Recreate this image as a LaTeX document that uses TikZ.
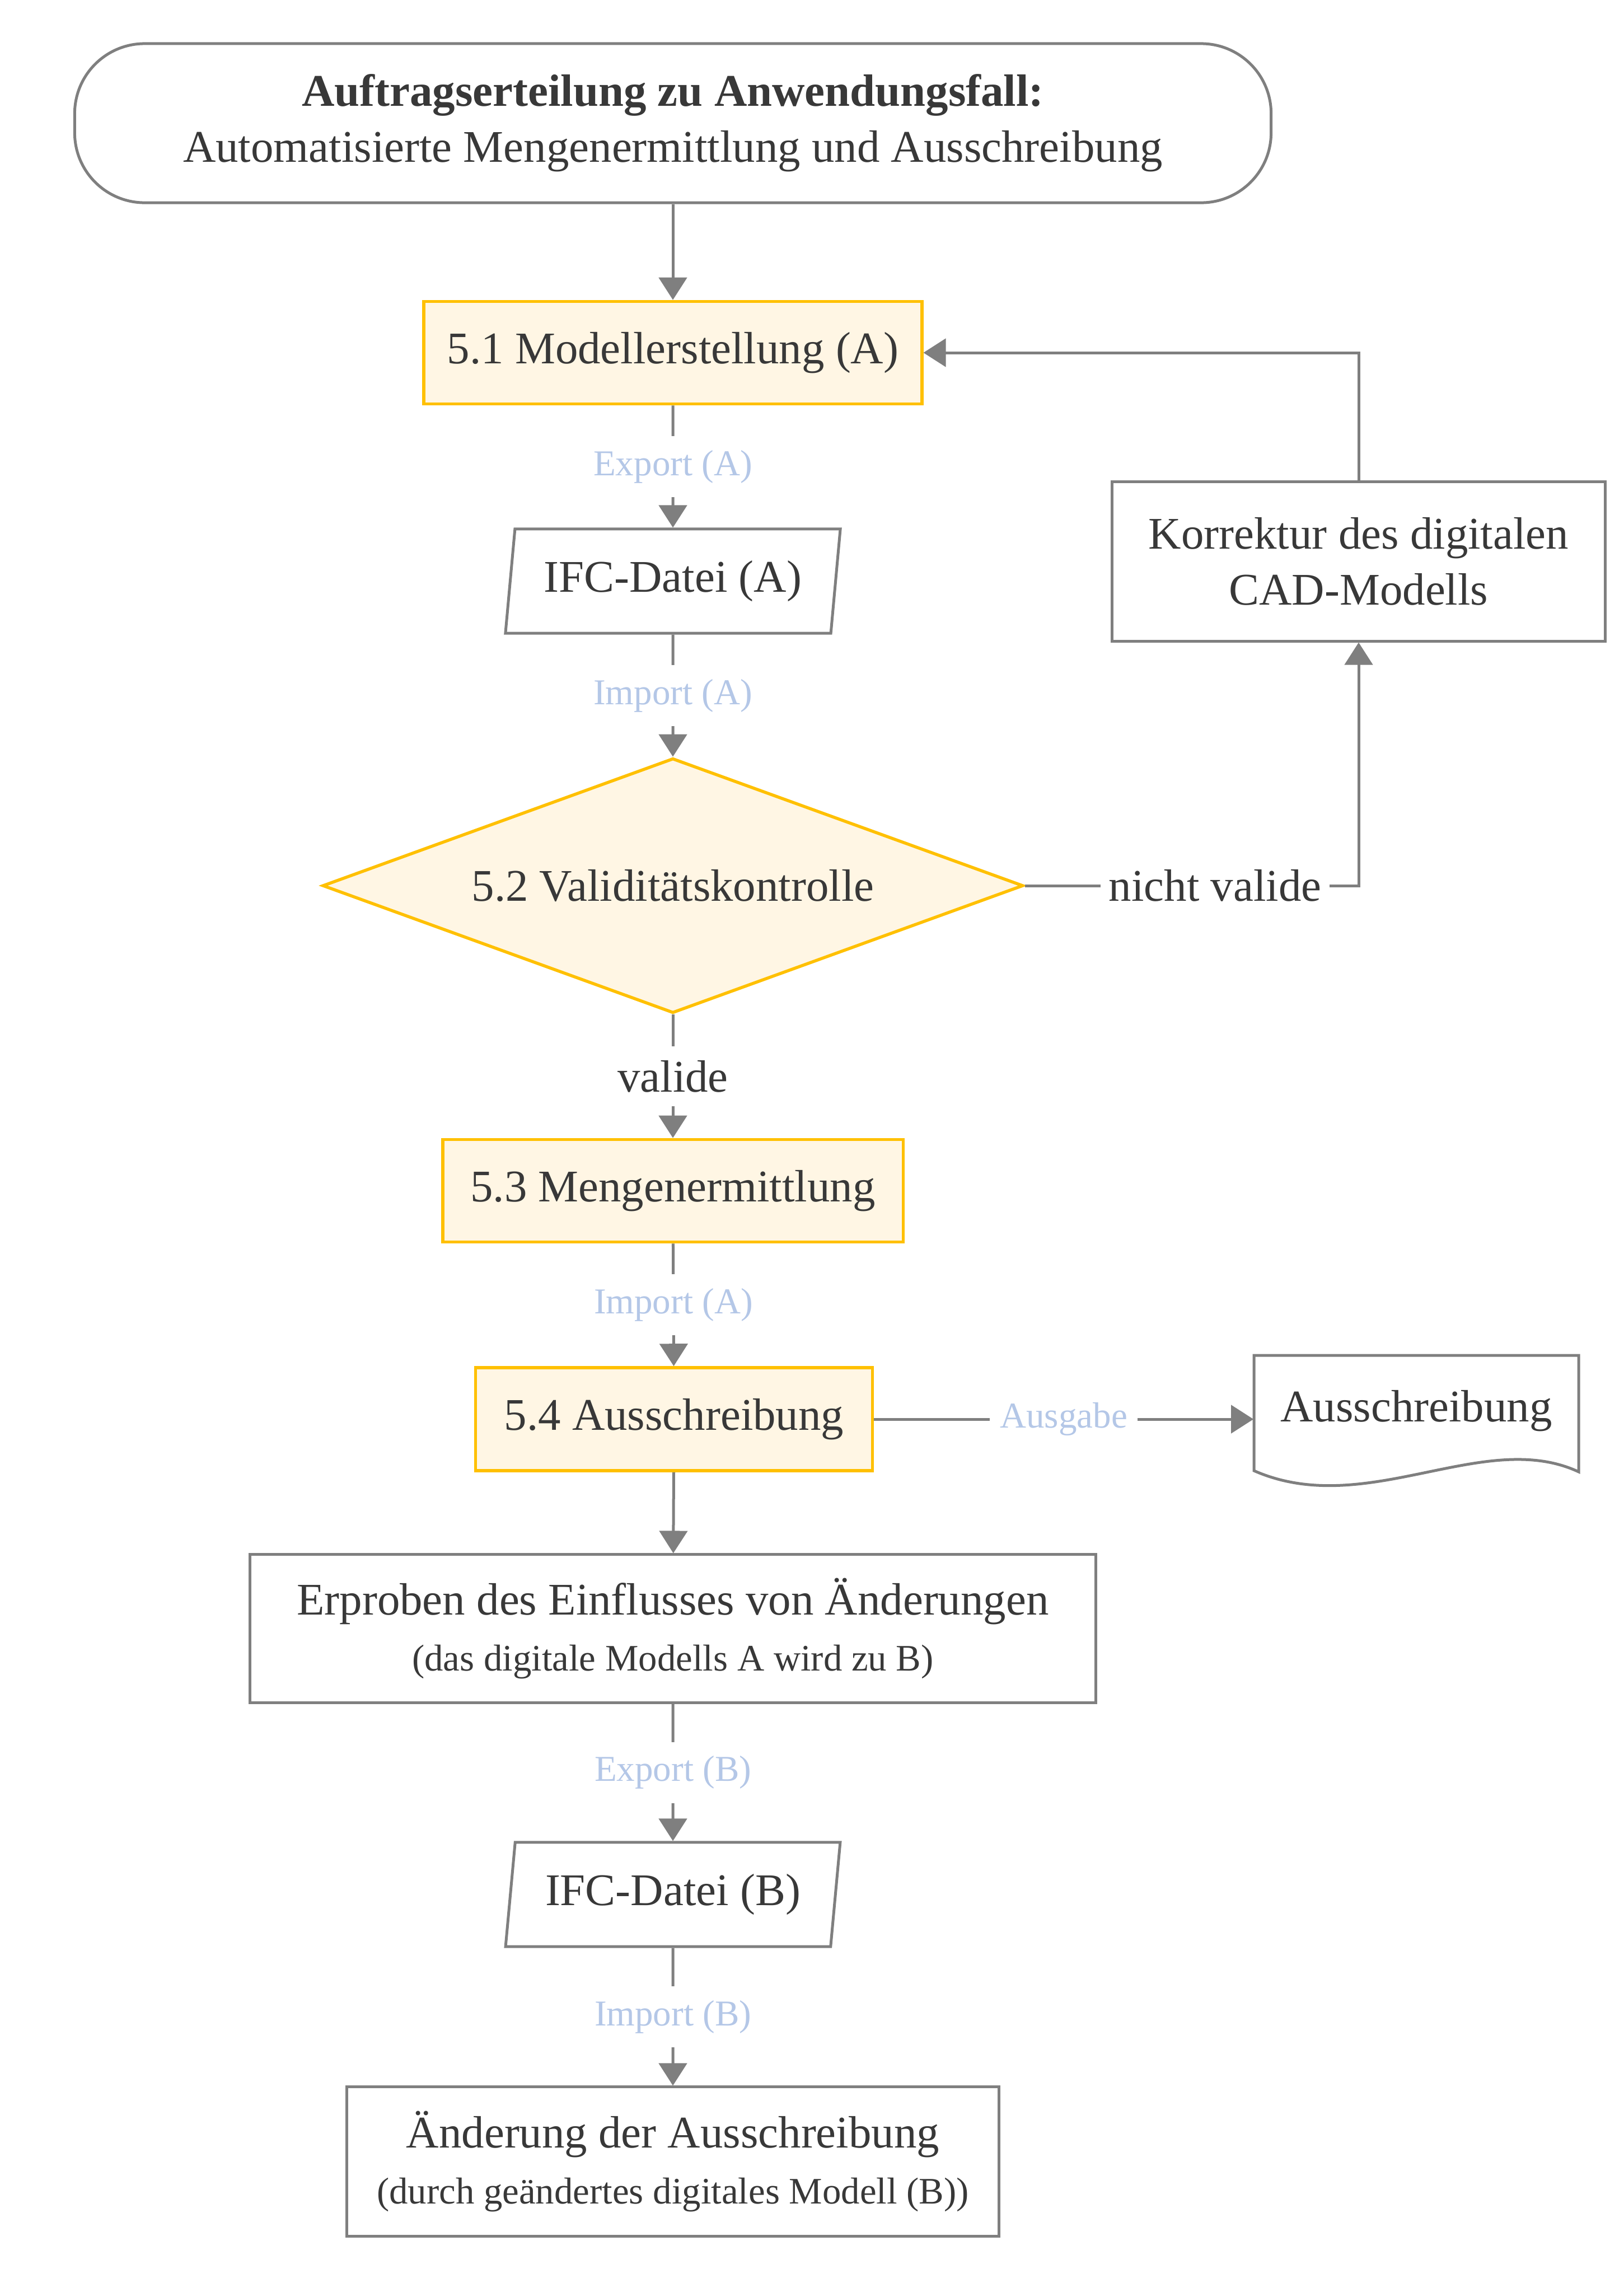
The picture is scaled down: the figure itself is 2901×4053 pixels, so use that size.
\documentclass[tikz,border=0pt]{standalone}
\usepackage{fontspec}
\setmainfont{Liberation Serif}
\usetikzlibrary{arrows.meta,shapes.geometric}
\definecolor{lgray}{HTML}{7F7F7F}
\definecolor{txt}{HTML}{383838}
\definecolor{yel}{HTML}{FFC000}
\definecolor{cream}{HTML}{FFF6E4}
\definecolor{lblue}{HTML}{B4C7E7}
\newcommand{\mainfs}{\fontsize{23}{28.5}\selectfont}
\newcommand{\smallfs}{\fontsize{19}{23}\selectfont}
\newcommand{\lblfs}{\fontsize{18.5}{23}\selectfont}
\tikzset{
  base/.style={text=txt, font=\mainfs, align=center, inner sep=0pt},
  box/.style={base, draw=lgray, line width=0.05cm, rectangle},
  term/.style={box, rounded corners=1.25cm},
  proc/.style={base, rectangle, draw=yel, fill=cream, line width=0.055cm},
  dec/.style={base, diamond, draw=yel, fill=cream, line width=0.055cm, aspect=2.75,
    minimum width=12.51cm, minimum height=4.55cm},
  io/.style={base, trapezium, draw=lgray, line width=0.05cm,
    trapezium left angle=79.3, trapezium right angle=100.7, trapezium stretches=true,
    minimum width=5.98cm, minimum height=1.86cm},
  outl/.style={draw=lgray, line width=0.05cm},
  conn/.style={draw=lgray, line width=0.05cm, -{Triangle[length=0.4cm, width=0.5cm]}},
  lbl/.style={fill=white, text=lblue, font=\lblfs, inner xsep=0.18cm, inner ysep=0.25cm},
  lblm/.style={fill=white, text=txt, font=\mainfs, inner xsep=0.15cm, inner ysep=0.25cm}
}
\begin{document}
\begin{tikzpicture}[x=0.01cm, y=-0.01cm]
\useasboundingbox (0,0) rectangle (2901,4053);

\node[term, minimum width=21.36cm, minimum height=2.84cm] (top) at (1202,220)
  {\textbf{Auftragserteilung zu Anwendungsfall:}\\Automatisierte Mengenermittlung und Ausschreibung};
\node[proc, minimum width=8.89cm, minimum height=1.83cm] (m51) at (1202,630) {5.1 Modellerstellung (A)};
\node[io] (ifcA) at (1202,1038) {IFC-Datei (A)};
\node[dec] (d52) at (1202,1582) {5.2 Validitätskontrolle};
\node[box, minimum width=8.81cm, minimum height=2.84cm] (korr) at (2427,1003) {Korrektur des digitalen\\CAD-Modells};
\node[proc, minimum width=8.22cm, minimum height=1.83cm] (m53) at (1202,2127) {5.3 Mengenermittlung};
\node[proc, minimum width=7.09cm, minimum height=1.84cm] (m54) at (1204,2535) {5.4 Ausschreibung};
\node[base, minimum width=5.80cm] (doc) at (2530,2520) {Ausschreibung};
\draw[outl] (2240,2421) -- (2820,2421) -- (2820,2629)
  .. controls (2650,2550) and (2440,2715) .. (2240,2627) -- cycle;
\node[box, minimum width=15.10cm, minimum height=2.64cm] (erp) at (1202,2909)
  {Erproben des Einflusses von Änderungen\\{\smallfs (das digitale Modells A wird zu B)}};
\node[io] (ifcB) at (1202,3384) {IFC-Datei (B)};
\node[box, minimum width=11.65cm, minimum height=2.66cm] (aend) at (1202,3861)
  {Änderung der Ausschreibung\\{\smallfs (durch geändertes digitales Modell (B))}};

\draw[conn] (top) -- (m51);
\draw[conn] (m51) -- node[lbl]{Export (A)} (ifcA);
\draw[conn] (ifcA) -- node[lbl]{Import (A)} (d52);
\draw[conn] (d52.east) -- node[lblm, pos=0.57]{nicht valide} (d52.east -| korr.south) -- (korr.south);
\draw[conn] (korr.north) |- (m51.east);
\draw[conn] (d52) -- node[lblm]{valide} (m53);
\draw[conn] (m53) -- node[lbl]{Import (A)} (m54);
\draw[conn] (m54.east) -- node[lbl]{Ausgabe} (m54.east -| doc.west);
\draw[conn] (m54) -- (erp);
\draw[conn] (erp) -- node[lbl]{Export (B)} (ifcB);
\draw[conn] (ifcB) -- node[lbl]{Import (B)} (aend);
\end{tikzpicture}
\end{document}
